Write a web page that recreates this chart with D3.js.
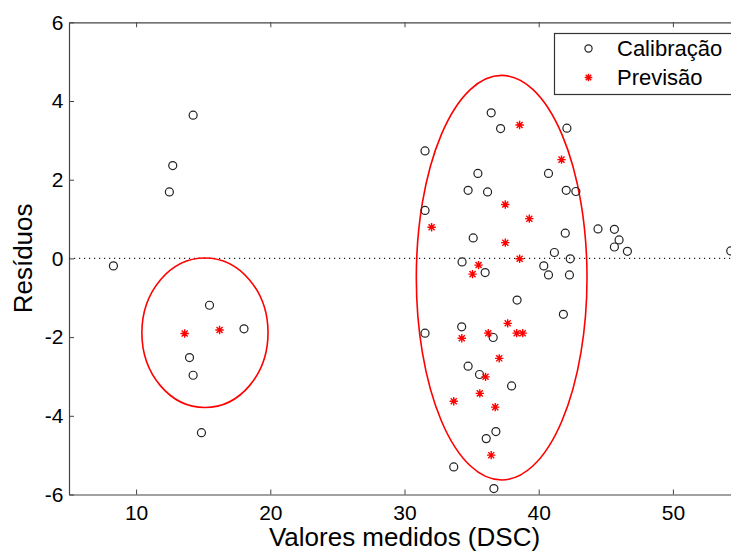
<!DOCTYPE html>
<html>
<head>
<meta charset="utf-8">
<script src="https://cdn.jsdelivr.net/npm/d3@7"></script>
<style>
  body { margin: 0; background: #fff; }
  svg { display: block; font-family: "Liberation Sans", Arial, sans-serif; }
  .axis path, .axis line { stroke: #444; }
  .axis text { font-size: 21px; fill: #000; font-family: "Liberation Sans", Arial, sans-serif; }
</style>
</head>
<body>
<svg id="chart" width="731" height="551"></svg>
<script>
// calibration residuals (open circles)
var calibX = [14.25, 12.73, 12.48, 8.31, 15.47, 18.04, 13.98, 14.25, 14.87,
              36.46, 37.16, 42.10, 31.53, 35.47, 40.73, 34.74, 36.19, 42.05, 42.77,
              31.53, 44.42, 45.64, 41.98, 35.12, 45.99, 45.64, 46.61, 41.17, 54.31,
              42.35, 34.29, 40.38, 36.01, 40.73, 42.29, 38.39, 41.84, 34.26, 31.53,
              36.61, 34.74, 35.59, 37.98, 36.81, 36.09, 33.67, 36.66];
var calibY = [3.64, 2.36, 1.69, -0.19, -1.19, -1.79, -2.52, -2.97, -4.43,
              3.70, 3.30, 3.31, 2.73, 2.16, 2.16, 1.73, 1.69, 1.73, 1.70,
              1.22, 0.75, 0.74, 0.64, 0.52, 0.47, 0.29, 0.18, 0.15, 0.19,
              -0.01, -0.09, -0.19, -0.36, -0.42, -0.42, -1.06, -1.42, -1.74, -1.90,
              -2.01, -2.74, -2.95, -3.24, -4.40, -4.58, -5.30, -5.85];

// prediction residuals (red stars)
var prevX = [13.62, 16.22, 38.58, 41.70, 37.51, 39.30, 32.02, 37.51, 38.58, 35.52, 35.07,
             37.69, 36.24, 38.36, 38.81, 34.27, 37.06, 36.04, 35.61, 33.67, 36.76, 36.46];
var prevY = [-1.91, -1.82, 3.39, 2.51, 1.37, 1.01, 0.79, 0.40, -0.01, -0.17, -0.40,
             -1.65, -1.90, -1.90, -1.90, -2.03, -2.54, -3.01, -3.43, -3.63, -3.78, -5.00];

// hand-drawn groupings: centre and half-axes in data units
var ellCx = [15.13, 37.24];
var ellCy = [-1.89, -0.49];
var ellRx = [4.7, 6.36];
var ellRy = [1.9, 5.14];

var xTicks = [10, 20, 30, 40, 50];
var yTicks = [-6, -4, -2, 0, 2, 4, 6];
var legendLabels = ["Calibração", "Previsão"];

(function() {

var svg = d3.select("#chart");
var mLeft = 69, mTop = 22.3, mRight = 740, mBottom = 494.5;

var x = d3.scaleLinear().domain([5, 55]).range([mLeft, mRight]);
var y = d3.scaleLinear().domain([-6, 6]).range([mBottom, mTop]);

// axes (MATLAB style: inward ticks, box on top)
svg.append("g")
    .attr("class", "axis")
    .attr("transform", "translate(0," + mBottom + ")")
    .call(d3.axisBottom(x).tickValues(xTicks).tickSizeInner(-5).tickSizeOuter(0).tickPadding(11));

svg.append("g")
    .attr("class", "axis")
    .attr("transform", "translate(0," + mTop + ")")
    .call(d3.axisTop(x).tickValues(xTicks).tickSizeInner(-5).tickSizeOuter(0).tickFormat(""));

// plain hyphen for negatives, as in the original figure
svg.append("g")
    .attr("class", "axis")
    .attr("transform", "translate(" + mLeft + ",0)")
    .call(d3.axisLeft(y).tickValues(yTicks).tickSizeInner(-5).tickSizeOuter(0).tickPadding(5.5)
      .tickFormat(function(d) { return String(d); }));

svg.selectAll(".axis .domain").attr("stroke-width", 1.2);

// zero reference line
svg.append("line")
    .attr("x1", x(5))
    .attr("x2", x(55))
    .attr("y1", y(0))
    .attr("y2", y(0))
    .attr("stroke", "#222")
    .attr("stroke-width", 1.2)
    .attr("stroke-dasharray", "1.2,3.8");

// ellipses
svg.selectAll("ellipse.group")
    .data(d3.range(ellCx.length))
  .enter().append("ellipse")
    .attr("class", "group")
    .attr("cx", function(i) { return x(ellCx[i]); })
    .attr("cy", function(i) { return y(ellCy[i]); })
    .attr("rx", function(i) { return x(ellCx[i] + ellRx[i]) - x(ellCx[i]); })
    .attr("ry", function(i) { return y(ellCy[i]) - y(ellCy[i] + ellRy[i]); })
    .attr("fill", "none")
    .attr("stroke", "#f00")
    .attr("stroke-width", 1.6);

function starPath(s) {
  var d = s * 0.72;
  return "M" + (-s) + ",0L" + s + ",0M0," + (-s) + "L0," + s +
         "M" + (-d) + "," + (-d) + "L" + d + "," + d +
         "M" + (-d) + "," + d + "L" + d + "," + (-d);
}

// calibration circles
svg.selectAll("circle.calib")
    .data(d3.range(calibX.length))
  .enter().append("circle")
    .attr("class", "calib")
    .attr("cx", function(i) { return x(calibX[i]); })
    .attr("cy", function(i) { return y(calibY[i]); })
    .attr("r", 4)
    .attr("fill", "none")
    .attr("stroke", "#222")
    .attr("stroke-width", 1.2);

// prediction stars
svg.selectAll("path.prev")
    .data(d3.range(prevX.length))
  .enter().append("path")
    .attr("class", "prev")
    .attr("transform", function(i) { return "translate(" + x(prevX[i]) + "," + y(prevY[i]) + ")"; })
    .attr("d", starPath(4.2))
    .attr("stroke", "#f00")
    .attr("stroke-width", 1.4);

// legend
var legend = svg.append("g").attr("transform", "translate(554.5,33.5)");
legend.append("rect")
    .attr("width", 190)
    .attr("height", 61)
    .attr("fill", "#fff")
    .attr("stroke", "#333")
    .attr("stroke-width", 1.2);

legend.append("circle")
    .attr("cx", 34)
    .attr("cy", 15)
    .attr("r", 3.6)
    .attr("fill", "none")
    .attr("stroke", "#222")
    .attr("stroke-width", 1.2);

legend.append("path")
    .attr("transform", "translate(34,44)")
    .attr("d", starPath(3.8))
    .attr("stroke", "#f00")
    .attr("stroke-width", 1.4);

legend.selectAll("text")
    .data(legendLabels)
  .enter().append("text")
    .attr("x", 62.5)
    .attr("y", function(d, i) { return 22 + i * 29.5; })
    .attr("font-size", 22)
    .text(function(d) { return d; });

// axis labels
svg.append("text")
    .attr("x", (mLeft + mRight) / 2)
    .attr("y", 546)
    .attr("text-anchor", "middle")
    .attr("font-size", 26)
    .text("Valores medidos (DSC)");

svg.append("text")
    .attr("transform", "translate(32," + ((mTop + mBottom) / 2) + ") rotate(-90)")
    .attr("text-anchor", "middle")
    .attr("font-size", 26)
    .text("Resíduos");

})();
</script>
</body>
</html>
